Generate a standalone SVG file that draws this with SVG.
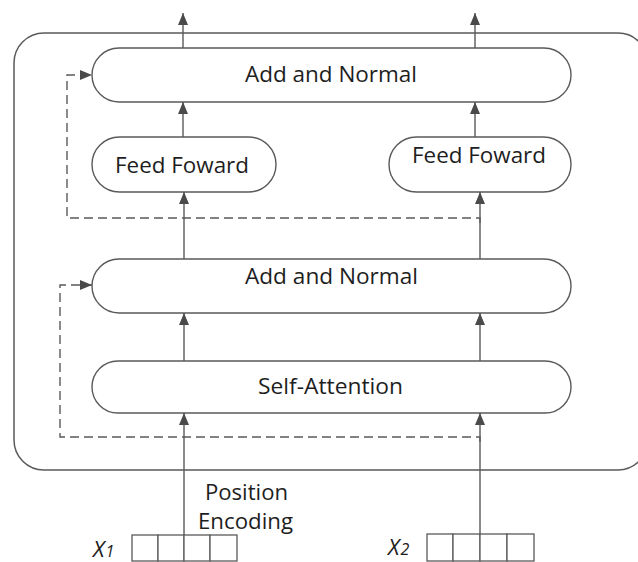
<svg xmlns="http://www.w3.org/2000/svg" width="638" height="562" viewBox="0 0 638 562">
  <style>
    .frame { fill: #ffffff; stroke: #5a5a5a; stroke-width: 1.5; }
    .node { fill: #ffffff; stroke: #5a5a5a; stroke-width: 1.4; }
    .cell { fill: #ffffff; stroke: #5a5a5a; stroke-width: 1.3; }
    .label { font-family: "Open Sans", "Liberation Sans", sans-serif; font-size: 21px; fill: #1e1e1e; }
    .var { font-family: "Open Sans", "Liberation Sans", sans-serif; font-style: italic; fill: #1e1e1e; }
    .flow { fill: none; stroke: #5a5a5a; stroke-width: 1.4; }
    .skip { fill: none; stroke: #5a5a5a; stroke-width: 1.4; stroke-dasharray: 9 5; }
  </style>
  <defs>
    <marker id="arrow" viewBox="0 0 12 10" refX="12" refY="5" markerWidth="12" markerHeight="10" markerUnits="userSpaceOnUse" orient="auto">
      <path d="M0,0 L12,5 L0,10 z" fill="#4a4a4a"/>
    </marker>
  </defs>

  <rect width="638" height="562" fill="#ffffff"/>

  <!-- encoder block frame -->
  <rect id="encoder" class="frame" x="14" y="33" width="634" height="437" rx="30" ry="30"/>

  <g id="add-normal-top">
    <rect class="node" x="92" y="48" width="479" height="54" rx="27" ry="27"/>
    <text class="label" x="245" y="82" textLength="172" lengthAdjust="spacingAndGlyphs">Add and Normal</text>
  </g>

  <g id="feed-forward-1">
    <rect class="node" x="92" y="137" width="184" height="55" rx="27.5" ry="27.5"/>
    <text class="label" x="115" y="173" textLength="134" lengthAdjust="spacingAndGlyphs">Feed Foward</text>
  </g>

  <g id="feed-forward-2">
    <rect class="node" x="389" y="137" width="182" height="55" rx="27.5" ry="27.5"/>
    <text class="label" x="412" y="163" textLength="134" lengthAdjust="spacingAndGlyphs">Feed Foward</text>
  </g>

  <g id="add-normal-mid">
    <rect class="node" x="92" y="259" width="479" height="54" rx="27" ry="27"/>
    <text class="label" x="245" y="284" textLength="173" lengthAdjust="spacingAndGlyphs">Add and Normal</text>
  </g>

  <g id="self-attention">
    <rect class="node" x="92" y="361" width="479" height="52" rx="26" ry="26"/>
    <text class="label" x="258" y="394" textLength="145" lengthAdjust="spacingAndGlyphs">Self-Attention</text>
  </g>

  <g id="position-encoding">
    <text class="label" x="205" y="500" textLength="83" lengthAdjust="spacingAndGlyphs">Position</text>
    <text class="label" x="198" y="529" textLength="95" lengthAdjust="spacingAndGlyphs">Encoding</text>
  </g>

  <g id="input-x1">
    <rect class="cell" x="132" y="535" width="26" height="26"/>
    <rect class="cell" x="158" y="535" width="26" height="26"/>
    <rect class="cell" x="184" y="535" width="26" height="26"/>
    <rect class="cell" x="210" y="535" width="27" height="26"/>
    <text class="var" x="93" y="557" font-size="22">X<tspan font-size="16" dx="1">1</tspan></text>
  </g>

  <g id="input-x2">
    <rect class="cell" x="427" y="534" width="26" height="27"/>
    <rect class="cell" x="453" y="534" width="27" height="27"/>
    <rect class="cell" x="480" y="534" width="27" height="27"/>
    <rect class="cell" x="507" y="534" width="27" height="27"/>
    <text class="var" x="388" y="555" font-size="22">X<tspan font-size="16" dx="1">2</tspan></text>
  </g>

  <g id="connectors">
    <!-- left column -->
    <line class="flow" x1="183" y1="48" x2="183" y2="13" marker-end="url(#arrow)"/>
    <line class="flow" x1="183" y1="137" x2="183" y2="102" marker-end="url(#arrow)"/>
    <line class="flow" x1="184" y1="259" x2="184" y2="192" marker-end="url(#arrow)"/>
    <line class="flow" x1="184" y1="361" x2="184" y2="313" marker-end="url(#arrow)"/>
    <line class="flow" x1="184" y1="535" x2="184" y2="413" marker-end="url(#arrow)"/>
    <!-- right column -->
    <line class="flow" x1="475" y1="48" x2="475" y2="13" marker-end="url(#arrow)"/>
    <line class="flow" x1="475" y1="137" x2="475" y2="102" marker-end="url(#arrow)"/>
    <line class="flow" x1="480" y1="259" x2="480" y2="192" marker-end="url(#arrow)"/>
    <line class="flow" x1="480" y1="361" x2="480" y2="313" marker-end="url(#arrow)"/>
    <line class="flow" x1="480" y1="534" x2="480" y2="413" marker-end="url(#arrow)"/>
    <!-- residual skips -->
    <path class="skip" d="M480,223 V218 H67 V75 H92" marker-end="url(#arrow)"/>
    <path class="skip" d="M480,442 V437 H60 V285 H92" marker-end="url(#arrow)"/>
  </g>
</svg>
